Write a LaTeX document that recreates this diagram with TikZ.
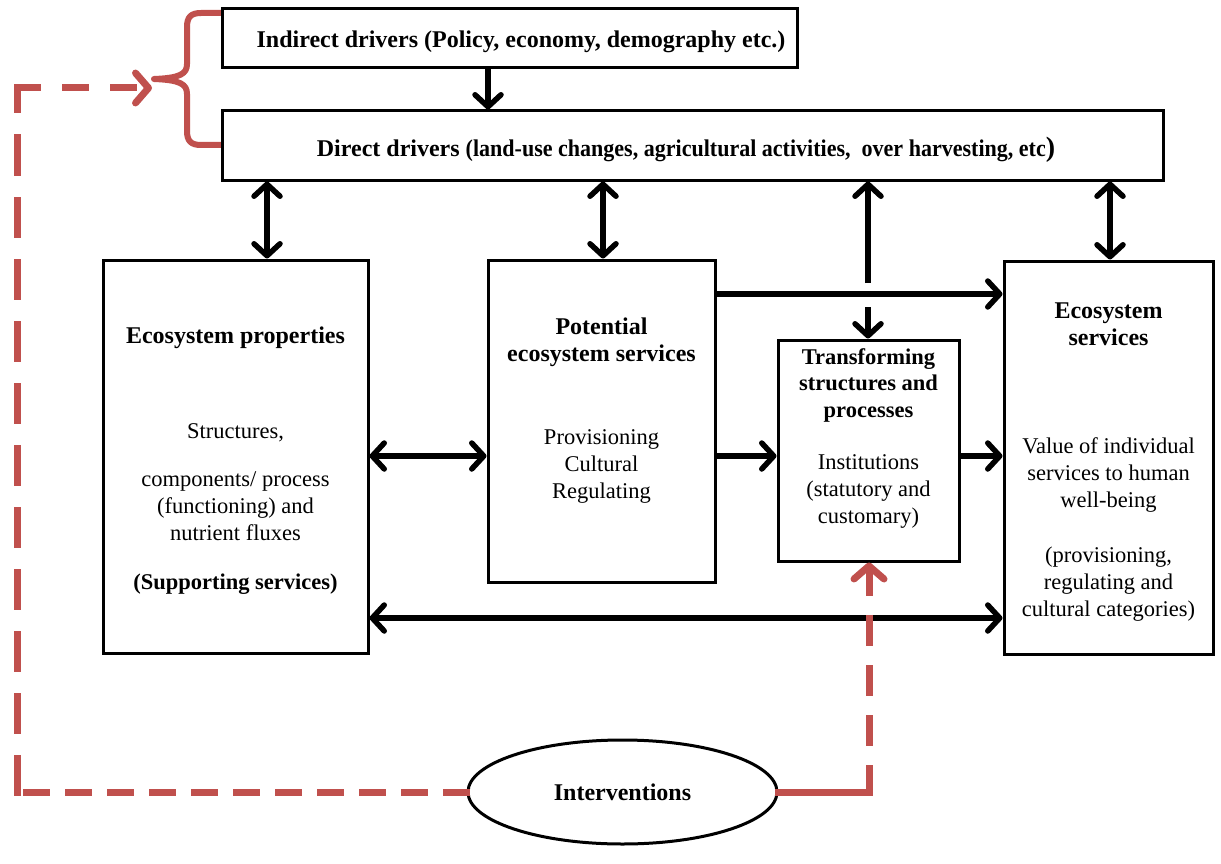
\documentclass[tikz,border=0pt]{standalone}
\usepackage{graphicx}
\usepackage{fontspec}
\setmainfont{Liberation Serif}
\usetikzlibrary{arrows.meta,shapes.geometric}
\definecolor{loopred}{HTML}{C0504D}

\begin{document}
\begin{tikzpicture}[x=1pt,y=-1pt,
  box/.style={draw=black, line width=3pt, inner sep=0pt},
  conn/.style={draw=black, line width=5.5pt, -{Straight Barb[length=12pt,width=26pt,round]}},
  biconn/.style={draw=black, line width=5.5pt,
    {Straight Barb[length=12pt,width=26pt,round]}-{Straight Barb[length=12pt,width=26pt,round]}},
  loopline/.style={draw=loopred, line width=7pt, line cap=rect},
  looptip/.style={-{Straight Barb[length=13pt,width=30pt,round]}},
  head/.style={font=\fontsize{24}{27}\selectfont\bfseries, align=center, inner sep=0pt},
  subhead/.style={font=\fontsize{22.5}{26.5}\selectfont\bfseries, align=center, inner sep=0pt},
  body/.style={font=\fontsize{22.5}{27}\selectfont, align=center, inner sep=0pt},
]
\fill[white] (0,0) rectangle (1221,864);
\useasboundingbox (0,0) rectangle (1221,864);

% curly brace grouping the two kinds of drivers
\draw[loopred, line width=6pt, line join=round]
  (222,13) -- (201,13) .. controls (191,13) and (187,17) .. (187,27) -- (187,64)
  .. controls (187,74) and (180,78) .. (154,79)
  .. controls (180,80) and (187,84) .. (187,94) -- (187,131)
  .. controls (187,141) and (191,145) .. (201,145) -- (222,145);

% boxes
\node[box, minimum width=575pt, minimum height=59pt] (ind) at (509.5,38.5) {};
\node[box, minimum width=941pt, minimum height=69pt] (dir) at (692.5,145.5) {};
\node[box, minimum width=265pt, minimum height=393pt] (ep) at (235.5,456.5) {};
\node[box, minimum width=227pt, minimum height=322pt] (pes) at (601.5,421) {};
\node[box, minimum width=181pt, minimum height=221pt] (tsp) at (868.5,450.5) {};
\node[box, minimum width=209pt, minimum height=393pt] (es) at (1108.5,457.5) {};
\node[ellipse, draw=black, line width=3pt, minimum width=309pt, minimum height=104pt,
  inner sep=0pt, font=\fontsize{24}{27}\selectfont\bfseries] (iv) at (622.5,792) {Interventions};

% box texts
\node[head] (ind-t) at (521,42) {Indirect drivers (Policy, economy, demography etc.)};
\node[head] (dir-t) at (686,150) {Direct drivers
  \resizebox{580pt}{\height}{(land-use changes, agricultural activities,\ \ over harvesting, etc}{\fontsize{28}{30}\selectfont)}};

\node[head] (ep-t) at (235.5,338) {Ecosystem properties};
\node[body] (ep-b) at (235.5,509) {Structures,\\[21pt]
  components/ process\\(functioning) and\\nutrient fluxes\\[22pt]
  \textbf{(Supporting services)}};

\node[head] (pes-t) at (601.5,342) {Potential\\ecosystem services};
\node[body] (pes-b) at (601.5,466) {Provisioning\\Cultural\\Regulating};

\node[subhead] (tsp-t) at (868.5,385) {Transforming\\structures and\\processes};
\node[body] (tsp-b) at (868.5,491) {Institutions\\(statutory and\\customary)};

\node[head] (es-t) at (1108.5,324) {Ecosystem\\services};
\node[body] (es-b) at (1108.5,530) {Value of individual\\services to human\\well-being\\[28pt]
  (provisioning,\\regulating and\\cultural categories)};

% connector columns and rows
\coordinate (cA) at (488,0);
\coordinate (cB) at (267,0);
\coordinate (cC) at (603,0);
\coordinate (cE) at (1110,0);
\coordinate (rP) at (0,294);
\coordinate (rM) at (0,456);
\coordinate (rL) at (0,618);
\coordinate (dstub) at (868,283);
\coordinate (dstub2) at (868,307);

% black connectors
\draw[conn] (ind.south -| cA) -- (dir.north -| cA);
\draw[biconn] (dir.south -| cB) -- (ep.north -| cB);
\draw[biconn] (dir.south -| cC) -- (pes.north -| cC);
\draw[biconn] (dir.south -| cE) -- (es.north -| cE);
\draw[conn] (dstub) -- (dir.south -| dstub);
\draw[conn] (dstub2) -- (tsp.north -| dstub2);
\draw[conn] (pes.east |- rP) -- (es.west |- rP);
\draw[biconn] (ep.east |- rM) -- (pes.west |- rM);
\draw[conn] (pes.east |- rM) -- (tsp.west |- rM);
\draw[conn] (tsp.east |- rM) -- (es.west |- rM);
\draw[biconn] (ep.east |- rL) -- (es.west |- rL);

% feedback loop from the interventions
\coordinate (lb) at (17,792);
\coordinate (lt) at (17,88);
\coordinate (brtip) at (152,88);
\coordinate (rb) at (869,792);
\draw[loopline, dash pattern=on 20pt off 22pt] (iv.west) -- (lb);
\draw[loopline, dash pattern=on 34pt off 28pt] (lb) -- (lt);
\draw[loopline, looptip, dash pattern=on 20pt off 28pt] (lt) -- (brtip);
\draw[loopline] (iv.east) -- (rb);
\draw[loopline, looptip, dash pattern=on 24pt off 26pt] (rb) -- (tsp.south -| rb);
\end{tikzpicture}
\end{document}
